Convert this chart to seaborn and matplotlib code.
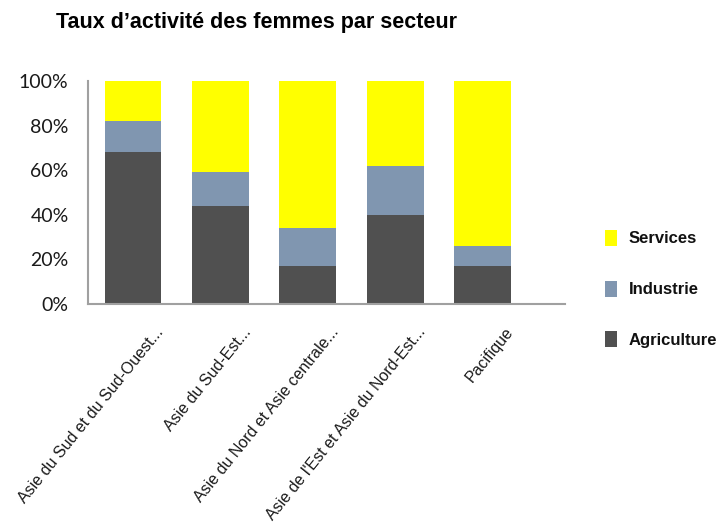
import matplotlib
matplotlib.use("Agg")
import matplotlib.pyplot as plt
import matplotlib.transforms as mtransforms
from matplotlib.patches import Patch
import seaborn as sns
import pandas as pd

categories = ["Asie du Sud et du Sud-Ouest...", "Asie du Sud-Est...",
              "Asie du Nord et Asie centrale...", "Asie de l'Est et Asie du Nord-Est...",
              "Pacifique"]
agriculture = [68, 44, 17, 40, 17]
industrie = [14, 15, 17, 22, 9]
services = [18, 41, 66, 38, 74]
y_ticks = [0, 20, 40, 60, 80, 100]
y_tick_labels = ["0%", "20%", "40%", "60%", "80%", "100%"]

colors = {"Services": "#ffff00", "Industrie": "#8096b0", "Agriculture": "#505050"}

sns.set_theme(style="white")
plt.rcParams["font.family"] = ["Liberation Sans", "DejaVu Sans"]
plt.rcParams["text.color"] = "#111111"

df = pd.DataFrame({"cat": categories, "agri": agriculture, "ind": industrie, "serv": services})
df["c2"] = df["agri"] + df["ind"]
df["c3"] = df["c2"] + df["serv"]

fig = plt.figure(figsize=(7.28, 5.31), dpi=100)
ax = fig.add_axes([0.1209, 0.4275, 0.655, 0.42])

sns.barplot(data=df, x="cat", y="c3", color=colors["Services"], width=0.65,
            saturation=1, ax=ax, linewidth=0)
sns.barplot(data=df, x="cat", y="c2", color=colors["Industrie"], width=0.65,
            saturation=1, ax=ax, linewidth=0)
sns.barplot(data=df, x="cat", y="agri", color=colors["Agriculture"], width=0.65,
            saturation=1, ax=ax, linewidth=0)

ax.set_xlim(-0.514, 4.94)
ax.set_ylim(0, 100)
ax.set_xlabel("")
ax.set_ylabel("")
ax.set_yticks(y_ticks)
ax.set_yticklabels(y_tick_labels, fontsize=14, family=["Lato", "DejaVu Sans"],
                   color="#1a1a1a")
ax.tick_params(axis="y", length=0, pad=14)
ax.tick_params(axis="x", length=0, pad=0)

offset = mtransforms.ScaledTranslation(0.28, -0.25, fig.dpi_scale_trans)
ax.set_xticks(range(len(categories)))
ax.set_xticklabels(categories, fontsize=11.5, color="#1a1a1a")
for lbl in ax.get_xticklabels():
    lbl.set_rotation(51)
    lbl.set_ha("right")
    lbl.set_va("center")
    lbl.set_rotation_mode("anchor")
    lbl.set_transform(lbl.get_transform() + offset)

for side in ["top", "right"]:
    ax.spines[side].set_visible(False)
for side in ["left", "bottom"]:
    ax.spines[side].set_color("#a0a0a0")
    ax.spines[side].set_linewidth(1.5)

fig.text(0.353, 0.958, "Taux d\u2019activité des femmes par secteur", fontsize=15.5,
         fontweight="bold", ha="center", va="center", color="black")

handles = [Patch(facecolor=colors[k], edgecolor="none", label=k)
           for k in ["Services", "Industrie", "Agriculture"]]
fig.legend(handles=handles, loc="center left", bbox_to_anchor=(0.81, 0.456),
           frameon=False, prop={"weight": "bold", "size": 12},
           labelspacing=2.05, handlelength=0.75, handleheight=1.1, handletextpad=0.7)

fig.savefig("out.png", dpi=100)
